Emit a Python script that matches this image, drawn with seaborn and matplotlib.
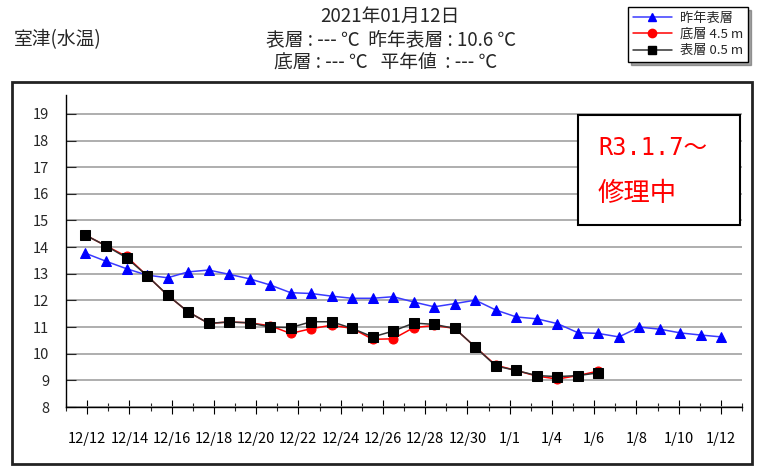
import numpy as np
import pandas as pd
import matplotlib
matplotlib.use('Agg')
import matplotlib.pyplot as plt
import seaborn as sns
from matplotlib.patches import Rectangle
from matplotlib.lines import Line2D

# 日付 (12/12 - 1/12)
dates = pd.date_range('2020-12-12', '2021-01-12')

# 昨年表層
last_year = [13.77, 13.47, 13.19, 12.95, 12.85, 13.07, 13.14, 12.98, 12.81, 12.58,
             12.29, 12.26, 12.16, 12.08, 12.08, 12.14, 11.94, 11.76, 11.88, 12.01,
             11.64, 11.38, 11.31, 11.13, 10.79, 10.76, 10.63, 11.0, 10.92, 10.78,
             10.7, 10.63]
# 底層 4.5 m
bottom = [14.45, 14.05, 13.65, 12.93, 12.2, 11.57, 11.14, 11.19, 11.16, 11.05,
          10.76, 10.94, 11.07, 10.95, 10.54, 10.56, 10.98, 11.06, 10.95, 10.25,
          9.57, 9.37, 9.16, 9.05, 9.18, 9.35]
# 表層 0.5 m
surface = [14.45, 14.05, 13.6, 12.93, 12.2, 11.57, 11.14, 11.19, 11.16, 11.0,
           10.98, 11.2, 11.2, 10.95, 10.63, 10.85, 11.15, 11.1, 10.95, 10.25,
           9.54, 9.37, 9.18, 9.14, 9.18, 9.28]

tick_labels = ['12/12', '12/14', '12/16', '12/18', '12/20', '12/22', '12/24', '12/26',
               '12/28', '12/30', '1/1', '1/4', '1/6', '1/8', '1/10', '1/12']
y_ticks = list(range(8, 20))

df_ly = pd.DataFrame({'day': range(len(last_year)), 'temp': last_year})
df_bt = pd.DataFrame({'day': range(len(bottom)), 'temp': bottom})
df_sf = pd.DataFrame({'day': range(len(surface)), 'temp': surface})

sns.set_style('white')
plt.rcParams['font.family'] = ['Noto Sans CJK JP', 'DejaVu Sans']

W, H = 759, 469
fig = plt.figure(figsize=(W / 100, H / 100), dpi=100)
ax = fig.add_axes([66 / W, 1 - 407 / H, (742 - 66) / W, (407 - 95) / H])

sns.lineplot(data=df_ly, x='day', y='temp', ax=ax, color='#3a3aff', lw=1.1,
             marker='^', markersize=7, markerfacecolor='#0000ff',
             markeredgecolor='#0000ff', zorder=3)
sns.lineplot(data=df_bt, x='day', y='temp', ax=ax, color='#ff0000', lw=1.1,
             marker='o', markersize=6.5, markerfacecolor='#ff0000',
             markeredgecolor='#ff0000', zorder=4)
sns.lineplot(data=df_sf, x='day', y='temp', ax=ax, color='#333333', lw=1.1,
             marker='s', markersize=7.5, markerfacecolor='#000000',
             markeredgecolor='#000000', zorder=5)

x0, x1 = -0.95, 32.0
ax.set_xlim(x0, x1)
ax.set_ylim(8, 19.71)
ax.set_xlabel('')
ax.set_ylabel('')

tick_pos = np.linspace(x0, x1, 33)
ax.set_xticks(tick_pos[1::2])
ax.set_xticklabels(tick_labels, fontsize=10.5)
ax.set_xticks(tick_pos, minor=True)
ax.tick_params(axis='x', which='both', bottom=True)
ax.tick_params(axis='x', which='major', direction='inout', length=10, width=0.8,
               pad=13, colors='black')
ax.tick_params(axis='x', which='minor', direction='inout', length=6, width=0.8)

ax.set_yticks(y_ticks)
ax.set_yticklabels([str(v) for v in y_ticks], fontsize=10.5)
ax.tick_params(axis='y', left=True, direction='in', length=7, width=0.8, pad=12)

ax.grid(axis='y', color='#a8a8a8', lw=1.3, zorder=0)
ax.grid(axis='x', visible=False)
for s in ['top', 'right']:
    ax.spines[s].set_visible(False)
for s in ['left', 'bottom']:
    ax.spines[s].set_color('black')
    ax.spines[s].set_linewidth(1.0)

# 修理中 box
box = Rectangle((578 / W, 1 - 225 / H), (740 - 578) / W, (225 - 115) / H,
                transform=fig.transFigure, facecolor='white', edgecolor='black',
                lw=1.5, zorder=6)
ax.add_artist(box)
box.set_clip_on(False)
fig.text(598 / W, 1 - 148 / H, 'R3.1.7～', color='red', fontsize=17,
         family=['DejaVu Sans Mono', 'Noto Sans CJK JP'], va='center', ha='left', zorder=7)
fig.text(598 / W, 1 - 193 / H, '修理中', color='red', fontsize=19,
         va='center', ha='left', zorder=7)

# 外枠
fig.patches.append(Rectangle((12 / W, 1 - 464 / H), 740 / W, 382 / H,
                             transform=fig.transFigure, fill=False, lw=2,
                             edgecolor='#222222'))

# 見出し
fig.text(390 / W, 1 - 16 / H, '2021年01月12日', ha='center', va='center', fontsize=13.5)
fig.text(391 / W, 1 - 40 / H, '表層 : --- ℃  昨年表層 : 10.6 ℃', ha='center',
         va='center', fontsize=13.5)
fig.text(386 / W, 1 - 63 / H, '底層 : --- ℃   平年値  : --- ℃', ha='center',
         va='center', fontsize=13.5)
fig.text(14 / W, 1 - 40 / H, '室津(水温)', ha='left', va='center', fontsize=13.5)

# 凡例
handles = [
    Line2D([], [], color='#3a3aff', marker='^', markersize=6, markerfacecolor='#0000ff',
           markeredgecolor='#0000ff', lw=1.1, label='昨年表層'),
    Line2D([], [], color='#ff0000', marker='o', markersize=6, markerfacecolor='#ff0000',
           markeredgecolor='#ff0000', lw=1.1, label='底層 4.5 m'),
    Line2D([], [], color='#333333', marker='s', markersize=6, markerfacecolor='#000000',
           markeredgecolor='#000000', lw=1.1, label='表層 0.5 m'),
]
leg = ax.legend(handles=handles, loc='upper right', bbox_to_anchor=(748 / W, 1 - 7 / H),
                bbox_transform=fig.transFigure, fontsize=9.5, frameon=True,
                fancybox=False, shadow=True, edgecolor='black', borderpad=0.35,
                labelspacing=0.25, handlelength=3.0, handletextpad=0.6,
                borderaxespad=0)
leg.get_frame().set_linewidth(1.0)

fig.savefig('out.png', dpi=100)
